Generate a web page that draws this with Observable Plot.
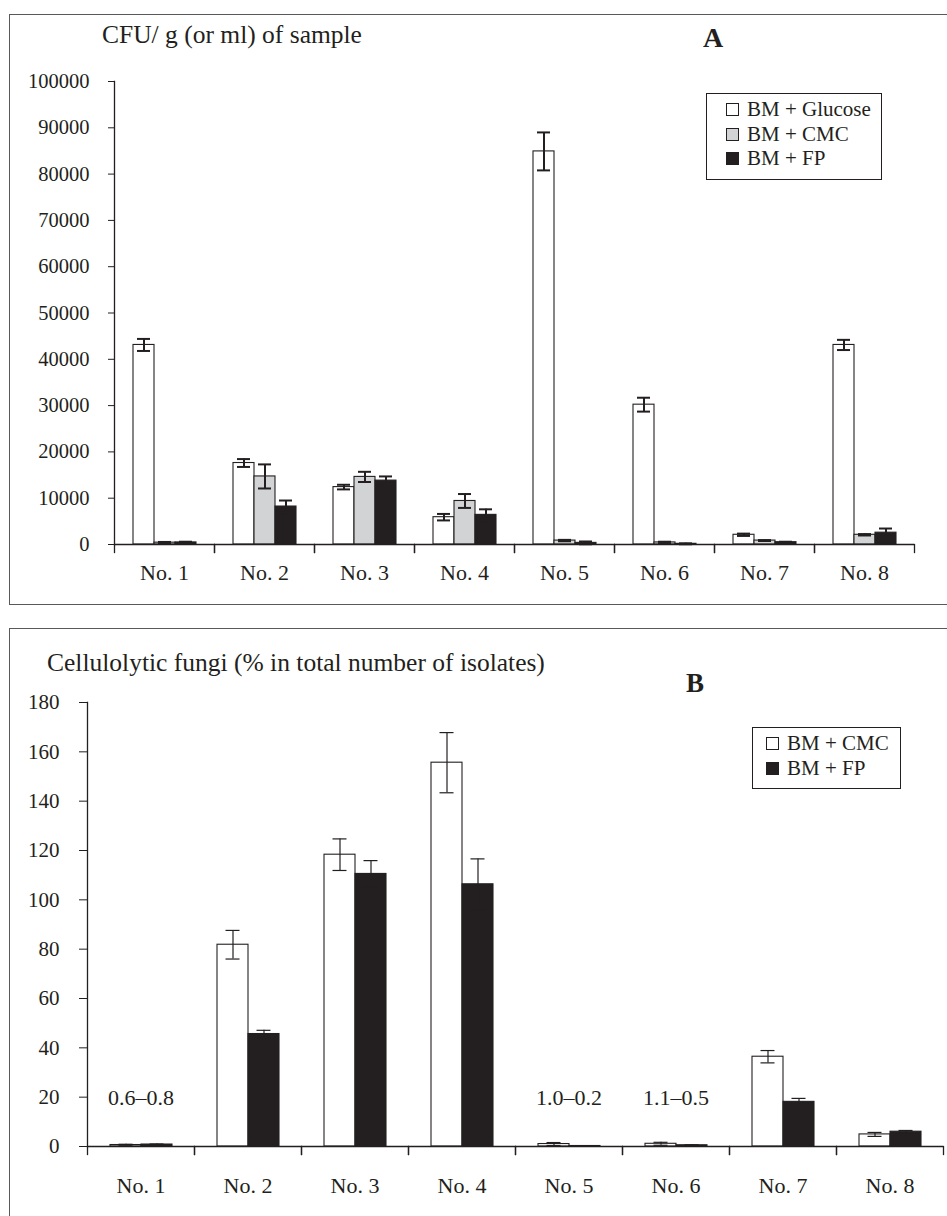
<!DOCTYPE html>
<html><head><meta charset="utf-8">
<script src="https://cdn.jsdelivr.net/npm/d3@7"></script>
<script src="https://cdn.jsdelivr.net/npm/@observablehq/plot@0.6"></script>
<style>
body{margin:0;background:#fff;}
#page{position:relative;width:947px;height:1216px;overflow:hidden;font-family:"Liberation Serif",serif;color:#231f20;}
.panel{position:absolute;border:1.5px solid #58595b;box-sizing:border-box;}
.abs{position:absolute;white-space:nowrap;line-height:30px;}
.plot{position:absolute;left:0;}
.legend{position:absolute;border:1.3px solid #231f20;background:#fff;box-sizing:border-box;z-index:2;}
.row{position:absolute;display:flex;align-items:center;height:24px;font-size:21px;white-space:nowrap;}
.sw{width:13px;height:13px;border:1px solid #231f20;box-sizing:border-box;margin-right:8px;}
</style></head>
<body><div id="page">
<div class="panel" style="left:9px;top:14px;width:1000px;height:591px;"></div>
<div class="panel" style="left:9px;top:628px;width:1000px;height:700px;"></div>
<div class="abs" style="left:102px;top:20px;font-size:25.5px;">CFU/ g (or ml) of sample</div>
<div class="abs" style="left:703px;top:23px;font-size:28px;font-weight:bold;">A</div>
<div class="abs" style="left:47px;top:648px;font-size:25.5px;">Cellulolytic fungi (% in total number of isolates)</div>
<div class="abs" style="left:686px;top:668px;font-size:27px;font-weight:bold;">B</div>
<div id="plotA" class="plot" style="top:0px;"></div>
<div id="plotB" class="plot" style="top:620px;"></div>
<div id="legA" class="legend" style="left:706px;top:93px;width:176px;height:87px;"></div>
<div id="legB" class="legend" style="left:752px;top:727px;width:149px;height:62px;"></div>
</div>
<script>
// ---- data ----
const samples = ["No. 1","No. 2","No. 3","No. 4","No. 5","No. 6","No. 7","No. 8"];
const seriesA = ["BM + Glucose","BM + CMC","BM + FP"];
const glucoseA    = [43100, 17600, 12400, 5900, 84900, 30200, 2100, 43100];
const glucoseErrA = [1300, 850, 500, 700, 4100, 1500, 250, 1100];
const cmcA        = [400, 14700, 14600, 9400, 850, 450, 850, 2100];
const cmcErrA     = [150, 2600, 1100, 1500, 150, 150, 100, 150];
const fpA         = [450, 8200, 13800, 6400, 350, 150, 500, 2550];
const fpErrA      = [150, 1300, 900, 1200, 300, 100, 100, 900];
const yTicksA = [0,10000,20000,30000,40000,50000,60000,70000,80000,90000,100000];

const seriesB = ["BM + CMC","BM + FP"];
const cmcB    = [0.6, 81.8, 118.3, 155.6, 1.0, 1.1, 36.4, 4.9];
const cmcErrB = [0.3, 5.8, 6.4, 12.2, 0.6, 0.6, 2.5, 0.8];
const fpB     = [0.8, 45.6, 110.5, 106.3, 0.2, 0.5, 18.1, 6.0];
const fpErrB  = [0.2, 1.5, 5.4, 10.3, 0, 0.2, 1.4, 0.5];
const yTicksB = [0,20,40,60,80,100,120,140,160,180];
const notesB = [
  {sample: "No. 1", label: "0.6–0.8"},
  {sample: "No. 5", label: "1.0–0.2"},
  {sample: "No. 6", label: "1.1–0.5"}
];

const ink = "#231f20";
const fillsA = ["#ffffff", "#d1d3d4", "#231f20"];
const fillsB = ["#ffffff", "#231f20"];

function table(series, vals, errs) {
  return samples.flatMap((s, i) => series.map((k, j) => ({sample: s, series: k, value: vals[j][i], err: errs[j][i]})));
}
const dataA = table(seriesA, [glucoseA, cmcA, fpA], [glucoseErrA, cmcErrA, fpErrA]);
const dataB = table(seriesB, [cmcB, fpB], [cmcErrB, fpErrB]);

function chart(o) {
  const H = o.height - o.marginTop - o.marginBottom;
  const errs = o.data.filter(d => d.err > 0);
  const marks = [
    Plot.barY(o.data, {fx: "sample", x: "series", y: "value", fill: "series", stroke: ink, strokeWidth: 1.1}),
    Plot.ruleY([0], {stroke: ink, strokeWidth: 1.3}),
    Plot.frame({anchor: "left", facetAnchor: "left", stroke: ink, strokeWidth: 1.3}),
    Plot.frame({anchor: "left", insetTop: H, insetBottom: -8, stroke: ink, strokeWidth: 1.3}),
    Plot.frame({anchor: "right", insetTop: H, insetBottom: -8, stroke: ink, strokeWidth: 1.3}),
    Plot.ruleX(errs, {fx: "sample", x: "series", y1: d => d.value - d.err, y2: d => d.value + d.err, stroke: ink, strokeWidth: o.errWidth}),
    Plot.tickY(errs, {fx: "sample", x: "series", y: d => d.value + d.err, stroke: ink, strokeWidth: o.errWidth, insetLeft: o.capInset, insetRight: o.capInset}),
    Plot.tickY(errs, {fx: "sample", x: "series", y: d => d.value - d.err, stroke: ink, strokeWidth: o.errWidth, insetLeft: o.capInset, insetRight: o.capInset}),
    Plot.axisY({ticks: o.yTicks, tickFormat: "d", tickSize: o.tickSize, tickPadding: o.tickPadding, fontSize: o.yFont, label: null, stroke: ink, fill: ink}),
    Plot.axisFx({anchor: "bottom", tickSize: 0, tickPadding: o.fxPad, fontSize: 22, label: null, fill: ink})
  ];
  if (o.notes) marks.push(Plot.text(o.notes, {fx: "sample", text: "label", frameAnchor: "bottom", dy: -42, fontSize: 22, fill: ink}));
  return Plot.plot({
    width: 947, height: o.height,
    marginTop: o.marginTop, marginLeft: o.marginLeft, marginRight: o.marginRight, marginBottom: o.marginBottom,
    style: {fontFamily: "Liberation Serif", color: ink, background: "transparent", overflow: "visible"},
    fx: {domain: samples, padding: 0},
    x: {domain: o.series, paddingInner: 0, paddingOuter: o.padOuter, axis: null},
    y: {domain: o.yDomain},
    color: {domain: o.series, range: o.fills},
    marks
  });
}

document.getElementById("plotA").append(chart({
  data: dataA, series: seriesA, fills: fillsA, height: 600,
  marginTop: 81, marginLeft: 111, marginRight: 31, marginBottom: 56,
  padOuter: 0.786, yDomain: [0, 100000], yTicks: yTicksA,
  tickSize: 6, tickPadding: 19, yFont: 20.5, fxPad: 20, errWidth: 2, capInset: 4
}));
document.getElementById("plotB").append(chart({
  data: dataB, series: seriesB, fills: fillsB, height: 596,
  marginTop: 82, marginLeft: 86, marginRight: 3, marginBottom: 70,
  padOuter: 0.714, yDomain: [0, 180], yTicks: yTicksB,
  tickSize: 8, tickPadding: 20, yFont: 21, fxPad: 31, errWidth: 1.2, capInset: 8.5,
  notes: notesB
}));

function legend(id, series, fills, centers) {
  const el = document.getElementById(id);
  series.forEach((s, i) => {
    const r = document.createElement("div");
    r.className = "row";
    r.style.left = (id === "legA" ? 19 : 13) + "px";
    r.style.top = (centers[i] - 12) + "px";
    const sw = document.createElement("div");
    sw.className = "sw";
    sw.style.background = fills[i];
    r.append(sw, document.createTextNode(s));
    el.append(r);
  });
}
legend("legA", seriesA, fillsA, [15, 40, 64]);
legend("legB", seriesB, fillsB, [15, 40]);
</script>
</body></html>
